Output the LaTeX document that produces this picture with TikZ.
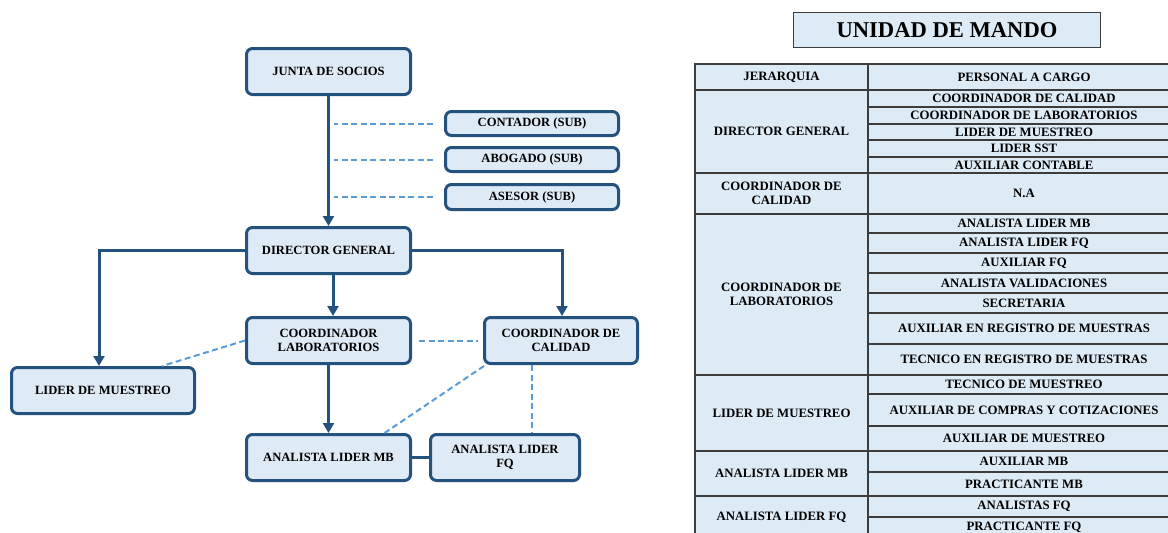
\documentclass[tikz,border=0pt]{standalone}
\usepackage{fontspec}
\setmainfont{Liberation Serif}
\usetikzlibrary{arrows.meta,positioning}
\definecolor{boxfill}{HTML}{DEEAF6}
\definecolor{boxline}{HTML}{24527E}
\definecolor{dashc}{HTML}{5B9BD5}
\definecolor{tfill}{HTML}{DDEBF7}
\definecolor{tline}{HTML}{3C3C3C}
\newcommand{\chartfont}{\fontsize{12.6}{14}\selectfont\bfseries}
\newcommand{\tabfont}{\fontsize{12.8}{14}\selectfont\bfseries}
\newcommand{\rcell}[4]{\node[cell, minimum width=312, minimum height={#3-#2}] (#1) at (1024,{(#2+#3)/2}) {#4};}
\newcommand{\lcell}[4]{\node[cell, minimum width=173, minimum height={#3-#2}] (#1) at (781.5,{(#2+#3)/2}) {#4};}
\tikzset{
  orgbox/.style={draw=boxline, fill=boxfill, line width=3pt, rounded corners=6pt, inner sep=0pt, align=center, font=\chartfont},
  arr/.style={draw=boxline, line width=3pt, -{Triangle[length=10pt,width=11pt]}},
  solidcon/.style={draw=boxline, line width=3pt},
  dashcon/.style={draw=dashc, line width=2pt, dash pattern=on 6pt off 3.5pt},
  cell/.style={draw=tline, fill=tfill, line width=1.3pt, inner sep=0pt, align=center, font=\tabfont},
}
\begin{document}
\begin{tikzpicture}[x=1pt,y=-1pt]
\useasboundingbox (0,0) rectangle (1168,533);
\clip (0,0) rectangle (1168,533);
% ---------- org chart ----------
\node[orgbox, minimum width=164, minimum height=46] (junta) at (328.5,71.5) {JUNTA DE SOCIOS};
\node[orgbox, minimum width=173, minimum height=24] (contador) at (532,123.5) {CONTADOR (SUB)};
\node[orgbox, minimum width=173, minimum height=24] (abogado) at (532,159.5) {ABOGADO (SUB)};
\node[orgbox, minimum width=173, minimum height=25] (asesor) at (532,197) {ASESOR (SUB)};
\node[orgbox, minimum width=164, minimum height=46] (director) at (328.5,250.5) {DIRECTOR GENERAL};
\node[orgbox, minimum width=164, minimum height=46] (lab) at (328.5,340.5) {COORDINADOR\\LABORATORIOS};
\node[orgbox, minimum width=153, minimum height=46] (cal) at (561,340.5) {COORDINADOR DE\\CALIDAD};
\node[orgbox, minimum width=183, minimum height=46] (lider) at (103,390.5) {LIDER DE MUESTREO};
\node[orgbox, minimum width=164, minimum height=46] (mb) at (328.5,457.5) {ANALISTA LIDER MB};
\node[orgbox, minimum width=149, minimum height=46] (fq) at (505,457.5) {ANALISTA LIDER\\FQ};

\draw[arr] (junta.south) -- (director.north);
\draw[dashcon] ([xshift=-11]contador.west) -- ([xshift=-110]contador.west);
\draw[dashcon] ([xshift=-11]abogado.west) -- ([xshift=-110]abogado.west);
\draw[dashcon] ([xshift=-11]asesor.west) -- ([xshift=-110]asesor.west);
\draw[arr] (director.west) -| ([xshift=-4]lider.north);
\draw[arr] (director.east) -| ([xshift=1]cal.north);
\draw[arr] ([xshift=4.5]director.south) -- ([xshift=4.5]lab.north);
\draw[arr] (lab.south) -- (mb.north);
\draw[solidcon] (mb.east) -- (fq.west);
\draw[dashcon] (lab.west) -- ([xshift=59]lider.north);
\draw[dashcon] ([xshift=7]lab.east) -- ([xshift=-5]cal.west);
\draw[dashcon] ([xshift=1,yshift=-1]cal.south west) -- ([xshift=56]mb.north);
\draw[dashcon] ([xshift=-29]cal.south) -- ([xshift=-29]cal.south |- fq.north);

% ---------- title ----------
\node[draw=tline, fill=tfill, line width=1.3pt, minimum width=307, minimum height=35, inner sep=0pt,
  font=\fontsize{22.6}{24}\selectfont\bfseries] (title) at (947,30) {UNIDAD DE MANDO};

% ---------- table ----------
\lcell{hl}{64}{90}{JERARQUIA}
\rcell{hr}{64}{90}{PERSONAL A CARGO}
\lcell{ldg}{90}{173}{DIRECTOR GENERAL}
\rcell{dg1}{90}{107}{COORDINADOR DE CALIDAD}
\rcell{dg2}{107}{124}{COORDINADOR DE LABORATORIOS}
\rcell{dg3}{124}{140}{LIDER DE MUESTREO}
\rcell{dg4}{140}{157}{LIDER SST}
\rcell{dg5}{157}{173}{AUXILIAR CONTABLE}
\lcell{lcc}{173}{214}{COORDINADOR DE\\CALIDAD}
\rcell{cc1}{173}{214}{N.A}
\lcell{lcl}{214}{375}{COORDINADOR DE\\LABORATORIOS}
\rcell{cl1}{214}{233}{ANALISTA LIDER MB}
\rcell{cl2}{233}{253}{ANALISTA LIDER FQ}
\rcell{cl3}{253}{273}{AUXILIAR FQ}
\rcell{cl4}{273}{293}{ANALISTA VALIDACIONES}
\rcell{cl5}{293}{313}{SECRETARIA}
\rcell{cl6}{313}{344}{AUXILIAR EN REGISTRO DE MUESTRAS}
\rcell{cl7}{344}{375}{TECNICO EN REGISTRO DE MUESTRAS}
\lcell{llm}{375}{451}{LIDER DE MUESTREO}
\rcell{lm1}{375}{394}{TECNICO DE MUESTREO}
\rcell{lm2}{394}{426}{AUXILIAR DE COMPRAS Y COTIZACIONES}
\rcell{lm3}{426}{451}{AUXILIAR DE MUESTREO}
\lcell{lmb}{451}{496}{ANALISTA LIDER MB}
\rcell{mb1}{451}{472}{AUXILIAR MB}
\rcell{mb2}{472}{496}{PRACTICANTE MB}
\lcell{lfq}{496}{538}{ANALISTA LIDER FQ}
\rcell{fq1}{496}{517}{ANALISTAS FQ}
\rcell{fq2}{517}{538}{PRACTICANTE FQ}
\end{tikzpicture}
\end{document}
